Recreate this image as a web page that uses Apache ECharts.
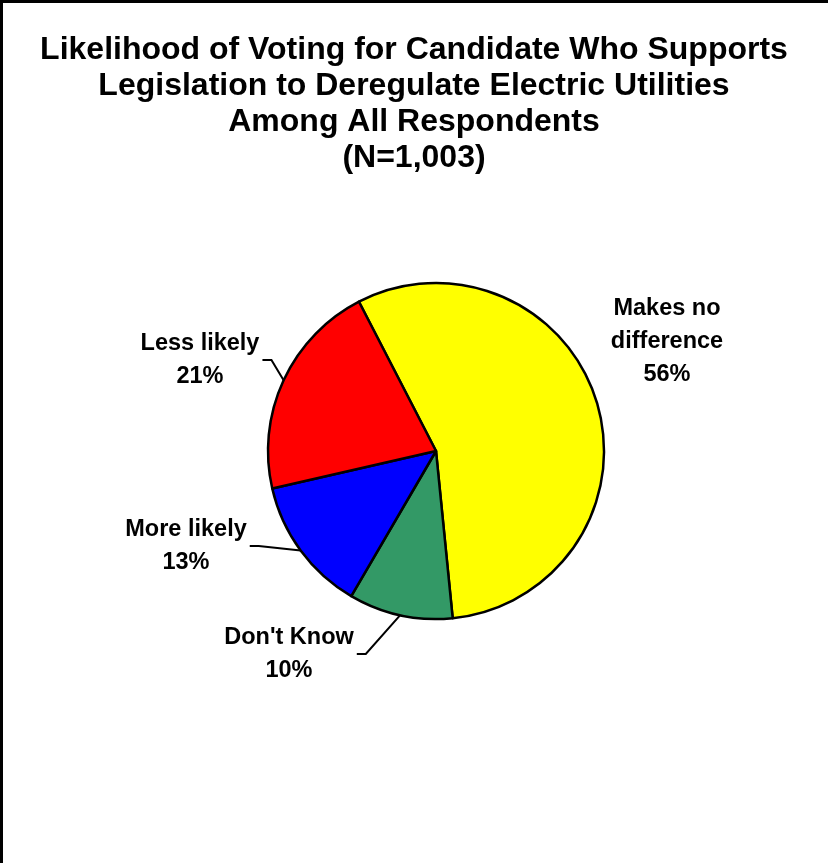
<!DOCTYPE html>
<html>
<head>
<meta charset="utf-8">
<title>Likelihood of Voting for Candidate Who Supports Legislation to Deregulate Electric Utilities</title>
<script src="https://cdn.jsdelivr.net/npm/echarts@6/dist/echarts.min.js"></script>
<style>
  html, body { margin: 0; padding: 0; background: #fff; }
  #wrap { position: relative; width: 828px; height: 863px; }
  #chart { position: absolute; left: 0; top: 0; width: 828px; height: 863px; }
  #frame {
    position: absolute; left: 0; top: 0; width: 828px; height: 863px;
    box-sizing: border-box; border-left: 3px solid #000; border-top: 3px solid #000;
    pointer-events: none;
  }
</style>
</head>
<body>
<div id="wrap">
  <div id="chart"></div>
  <div id="frame"></div>
</div>
<script>
// Survey answers, drawn clockwise starting with "Makes no difference"
const categories = ['Makes no difference', "Don't Know", 'More likely', 'Less likely'];
const labelTexts = ['Makes no\ndifference', "Don't Know", 'More likely', 'Less likely'];
const shares = [56, 10, 13, 21];
const sliceColors = ['#FFFF00', '#339966', '#0000FF', '#FF0000'];

const titleLines = [
  'Likelihood of Voting for Candidate Who Supports',
  'Legislation to Deregulate Electric Utilities',
  'Among All Respondents',
  '(N=1,003)'
];

// Centre of each label block, in pixels
const labelSpots = [[667, 342], [289, 654], [186, 546], [200, 360]];

const FONT = "'Liberation Sans', Arial, sans-serif";

const chart = echarts.init(document.getElementById('chart'), null, { renderer: 'canvas' });

chart.setOption({
  backgroundColor: '#ffffff',
  animation: false,
  title: {
    text: titleLines.join('\n'),
    left: 'center',
    top: 27,
    textStyle: {
      fontFamily: FONT,
      fontWeight: 'bold',
      fontSize: 32,
      lineHeight: 36,
      color: '#000'
    }
  },
  series: [{
    type: 'pie',
    center: [436, 451],
    radius: 168,
    startAngle: 117.3,
    clockwise: true,
    avoidLabelOverlap: false,
    silent: true,
    itemStyle: { borderColor: '#000', borderWidth: 2.5 },
    label: {
      show: true,
      position: 'outside',
      fontFamily: FONT,
      fontWeight: 'bold',
      fontSize: 23.5,
      lineHeight: 33,
      color: '#000',
      align: 'center',
      formatter: function (p) { return labelTexts[p.dataIndex] + '\n' + p.value + '%'; }
    },
    labelLine: {
      show: true,
      length: 10,
      length2: 10,
      lineStyle: { color: '#000', width: 2 }
    },
    labelLayout: function (p) {
      const pos = labelSpots[p.dataIndex];
      const out = { x: pos[0], y: pos[1], align: 'center', verticalAlign: 'middle' };
      if (p.labelLinePoints && p.dataIndex !== 0) {
        const edge = p.labelLinePoints[0];
        const side = edge[0] > pos[0] ? 1 : -1;
        const sx = pos[0] + side * (p.labelRect.width / 2 + 3);
        out.labelLinePoints = [[sx, pos[1]], [sx + side * 9, pos[1]], [edge[0], edge[1]]];
      }
      return out;
    },
    data: categories.map(function (name, i) {
      const item = { name: name, value: shares[i], itemStyle: { color: sliceColors[i] } };
      if (i === 0) item.labelLine = { show: false };
      return item;
    })
  }]
});
</script>
</body>
</html>
